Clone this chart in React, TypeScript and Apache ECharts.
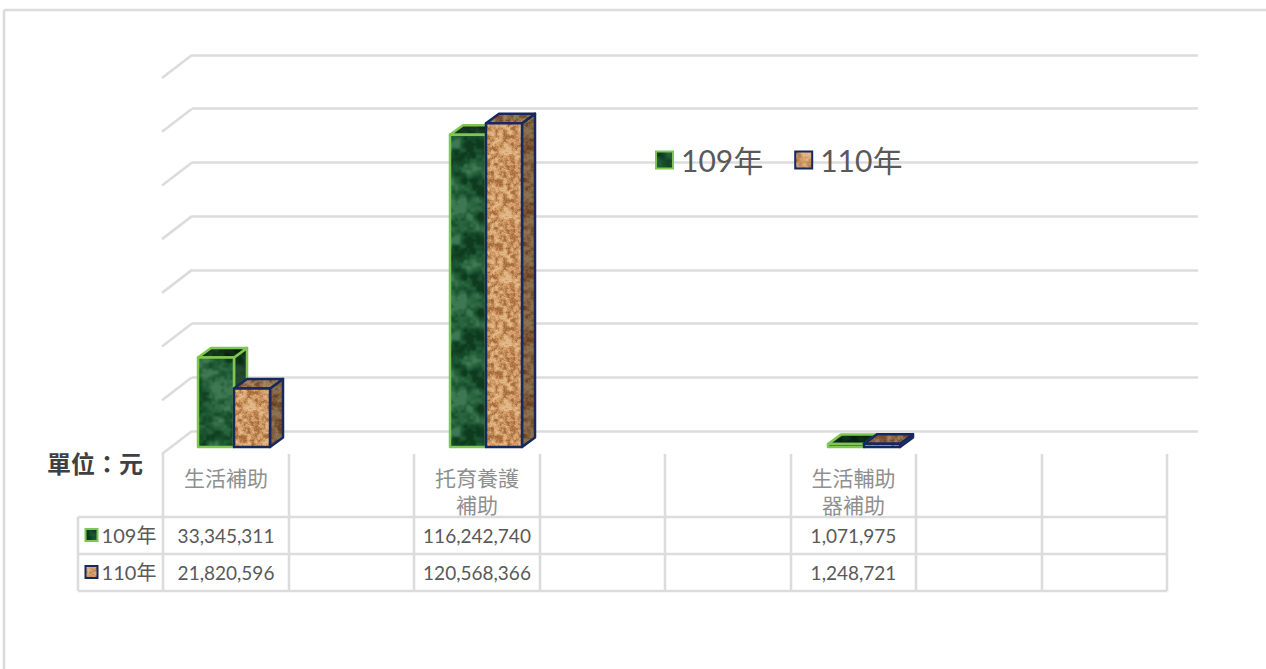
import React, { useEffect, useRef } from "react";
import * as echarts from "echarts";

const categories = ["生活補助", "", "托育養護\n補助", "", "", "生活輔助\n器補助", "", ""];
const seriesNames = ["109年", "110年"];
const values109: (number | null)[] = [33345311, null, 116242740, null, null, 1071975, null, null];
const values110: (number | null)[] = [21820596, null, 120568366, null, null, 1248721, null, null];
const gridValues = [0, 20000000, 40000000, 60000000, 80000000, 100000000, 120000000, 140000000];
const unitLabel = "單位：元";

const FONT = "Lato, Carlito, 'Noto Sans CJK TC', sans-serif";
const LINE = "#dcdcdc";
const LINE_W = 2.6;
const TEXT = "#595959";
const GREEN_EDGE = "#7fc653";
const NAVY_EDGE = "#16295f";

const TABLE_X = [163, 289, 414, 540, 665, 791, 916, 1042, 1167];
const TABLE_LEFT = 78;
const TABLE_HEAD_TOP = 454;
const TABLE_ROWS = [517, 554, 591];

function hash(x: number, y: number) {
  const s = Math.sin(x * 127.1 + y * 311.7) * 43758.5453;
  return s - Math.floor(s);
}
function noise(x: number, y: number, period: number) {
  const xi = Math.floor(x);
  const yi = Math.floor(y);
  const fx = x - xi;
  const fy = y - yi;
  const u = fx * fx * (3 - 2 * fx);
  const v = fy * fy * (3 - 2 * fy);
  const g = (a: number, b: number) => hash(((a % period) + period) % period, ((b % period) + period) % period);
  const top = g(xi, yi) * (1 - u) + g(xi + 1, yi) * u;
  const bot = g(xi, yi + 1) * (1 - u) + g(xi + 1, yi + 1) * u;
  return top * (1 - v) + bot * v;
}
type RGB = [number, number, number];
function texture(size: number, cell: number, low: RGB, mid: RGB, high: RGB, shade: number) {
  const c = document.createElement("canvas");
  c.width = size;
  c.height = size;
  const ctx = c.getContext("2d")!;
  const img = ctx.createImageData(size, size);
  for (let y = 0; y < size; y++) {
    for (let x = 0; x < size; x++) {
      let n = 0;
      let amp = 0.5;
      let freq = size / cell;
      let sx = (x / size) * freq;
      let sy = (y / size) * freq;
      let total = 0;
      for (let o = 0; o < 3; o++) {
        n += noise(sx, sy, Math.round(freq)) * amp;
        total += amp;
        amp *= 0.6;
        sx *= 2;
        sy *= 2;
        freq *= 2;
      }
      n = n / total;
      const t = Math.max(0, Math.min(1, (n - 0.28) / 0.44));
      const a = t < 0.5 ? low : mid;
      const b = t < 0.5 ? mid : high;
      const k = t < 0.5 ? t * 2 : (t - 0.5) * 2;
      const i = (y * size + x) * 4;
      for (let ch = 0; ch < 3; ch++) img.data[i + ch] = (a[ch] + (b[ch] - a[ch]) * k) * shade;
      img.data[i + 3] = 255;
    }
  }
  ctx.putImageData(img, 0, 0);
  return { image: c, repeat: "repeat" };
}

export default function App() {
  const ref = useRef<HTMLDivElement>(null);
  useEffect(() => {
    const chart = echarts.init(ref.current!, undefined, { renderer: "svg" });

    const marbleLow: RGB = [14, 58, 30];
    const marbleMid: RGB = [30, 90, 52];
    const marbleHigh: RGB = [62, 120, 82];
    const corkLow: RGB = [166, 108, 58];
    const corkMid: RGB = [206, 152, 100];
    const corkHigh: RGB = [228, 186, 138];
    const fills = [
      {
        front: texture(96, 12, marbleLow, marbleMid, marbleHigh, 1),
        top: texture(96, 12, marbleLow, marbleMid, marbleHigh, 0.55),
        side: texture(96, 12, marbleLow, marbleMid, marbleHigh, 0.6),
        edge: GREEN_EDGE,
      },
      {
        front: texture(64, 4, corkLow, corkMid, corkHigh, 1),
        top: texture(64, 4, corkLow, corkMid, corkHigh, 0.72),
        side: texture(64, 4, corkLow, corkMid, corkHigh, 0.62),
        edge: NAVY_EDGE,
      },
    ];

    const DX = 13;
    const DY = 9.5;
    const barItem = (idx: number) => (_p: any, api: any) => {
      const cat = api.value(0);
      const val = api.value(1);
      const base = api.coord([cat, 0]);
      const top = api.coord([cat, val]);
      const w = (api.size([1, 0])[0] * 36) / 126;
      const x0 = base[0] + (idx === 0 ? -w : 0);
      const x1 = x0 + w;
      const yb = base[1];
      const yt = top[1];
      const f = fills[idx];
      const stroke = { stroke: f.edge, lineWidth: 2.5, lineJoin: "round" };
      return {
        type: "group",
        children: [
          {
            type: "polygon",
            shape: { points: [[x1, yt], [x1 + DX, yt - DY], [x1 + DX, yb - DY], [x1, yb]] },
            style: { fill: f.side, ...stroke },
          },
          {
            type: "polygon",
            shape: { points: [[x0, yt], [x0 + DX, yt - DY], [x1 + DX, yt - DY], [x1, yt]] },
            style: { fill: f.top, ...stroke },
          },
          {
            type: "polygon",
            shape: { points: [[x0, yt], [x1, yt], [x1, yb], [x0, yb]] },
            style: { fill: f.front, ...stroke },
          },
        ],
      };
    };
    const pairs = (arr: (number | null)[]) =>
      arr.map((v, i) => (v == null ? null : [i, v])).filter(Boolean) as number[][];

    const graphic: any[] = [];
    const line = (x1: number, y1: number, x2: number, y2: number) =>
      graphic.push({
        type: "line",
        silent: true,
        shape: { x1, y1, x2, y2 },
        style: { stroke: LINE, lineWidth: LINE_W },
      });
    const label = (x: number, y: number, text: string, size: number, fill: string, extra: any = {}) =>
      graphic.push({
        type: "text",
        silent: true,
        x,
        y,
        style: {
          text,
          fill,
          font: `${size}px ${FONT}`,
          textAlign: "center",
          textVerticalAlign: "middle",
          ...extra,
        },
      });

    // outer frame
    line(4, 10, 1266, 10);
    line(4, 10, 4, 669);

    // data table
    TABLE_ROWS.forEach((y) => line(TABLE_LEFT, y, TABLE_X[TABLE_X.length - 1], y));
    line(TABLE_LEFT, TABLE_ROWS[0], TABLE_LEFT, TABLE_ROWS[2]);
    TABLE_X.forEach((x) => line(x, TABLE_HEAD_TOP, x, TABLE_ROWS[2]));

    categories.forEach((c, i) => {
      if (!c) return;
      const cx = (TABLE_X[i] + TABLE_X[i + 1]) / 2;
      c.split("\n").forEach((t, j) => label(cx, 477 + j * 27, t, 21, "#8f8f8f"));
    });
    [values109, values110].forEach((vals, r) => {
      const cy = (TABLE_ROWS[r] + TABLE_ROWS[r + 1]) / 2;
      graphic.push({
        type: "rect",
        silent: true,
        shape: { x: 85.5, y: cy - 6.5, width: 12, height: 12 },
        style: { fill: fills[r].front, stroke: fills[r].edge, lineWidth: 2 },
      });
      label(129, cy - 1, seriesNames[r], 20, TEXT);
      vals.forEach((v, i) => {
        if (v == null) return;
        label((TABLE_X[i] + TABLE_X[i + 1]) / 2, cy, v.toLocaleString("en-US"), 19, TEXT);
      });
    });
    label(95, 463, unitLabel, 24, "#404040", { font: `bold 24px ${FONT}` });

    chart.setOption({
      animation: false,
      backgroundColor: "#ffffff",
      textStyle: { fontFamily: FONT },
      legend: {
        left: 655,
        top: 145,
        icon: "rect",
        itemWidth: 17,
        itemHeight: 17,
        itemGap: 31,
        padding: 0,
        selectedMode: false,
        textStyle: { fontSize: 30, color: TEXT, fontFamily: FONT, padding: [0, 0, 0, 3] },
        data: seriesNames.map((name, i) => ({
          name,
          itemStyle: { color: fills[i].front, borderColor: fills[i].edge, borderWidth: 2 },
        })),
      },
      grid: [
        { left: 192, top: 55, width: 1006, height: 376 },
        { left: 171, top: 71, width: 1008, height: 376 },
      ],
      xAxis: [
        { gridIndex: 0, type: "value", min: 0, max: 1, show: false },
        { gridIndex: 1, type: "category", data: categories, show: false },
      ],
      yAxis: [
        {
          gridIndex: 0,
          type: "value",
          min: 0,
          max: 140000000,
          interval: 20000000,
          axisLine: { show: false },
          axisTick: { show: false },
          axisLabel: { show: false },
          splitLine: { show: true, lineStyle: { color: LINE, width: LINE_W } },
        },
        { gridIndex: 1, type: "value", min: 0, max: 140000000, interval: 20000000, show: false },
      ],
      series: [
        {
          type: "custom",
          name: "wall",
          silent: true,
          clip: false,
          xAxisIndex: 0,
          yAxisIndex: 0,
          data: gridValues.map((v) => [0, v]),
          renderItem: (_p: any, api: any) => {
            const p = api.coord([0, api.value(1)]);
            return {
              type: "line",
              shape: { x1: p[0], y1: p[1], x2: p[0] - 30, y2: p[1] + 23 },
              style: { stroke: LINE, lineWidth: LINE_W },
            };
          },
        },
        ...[values109, values110].map((vals, i) => ({
          type: "custom",
          name: seriesNames[i],
          silent: true,
          clip: false,
          z: 3 + i,
          xAxisIndex: 1,
          yAxisIndex: 1,
          data: pairs(vals),
          renderItem: barItem(i),
        })),
      ],
      graphic,
    });
    return () => chart.dispose();
  }, []);
  return (
    <div
      ref={ref}
      style={{ position: "fixed", left: 0, top: 0, width: 1266, height: 669, background: "#fff" }}
    />
  );
}
